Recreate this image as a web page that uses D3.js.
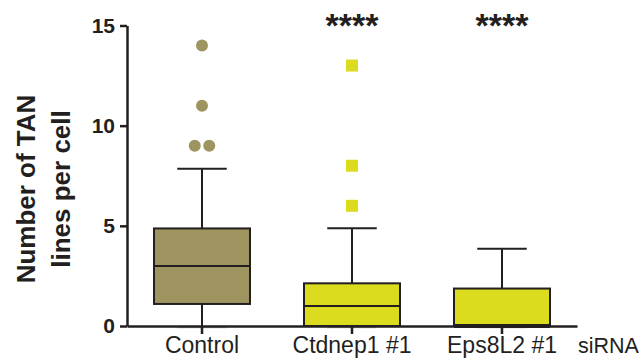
<!DOCTYPE html>
<html>
<head>
<meta charset="utf-8">
<script src="https://cdn.jsdelivr.net/npm/d3@7"></script>
<style>
  body { margin: 0; background: #fff; }
  svg { display: block; }
</style>
</head>
<body>
<div id="vis"></div>
<script>
// Box plot summary per siRNA group
const categories = ["Control", "Ctdnep1 #1", "Eps8L2 #1"]
const whiskerLow = [0, 0, 0]
const q1 = [1.1, 0, 0]
const median = [3, 1, 0]
const q3 = [4.87, 2.13, 1.87]
const whiskerHigh = [7.85, 4.88, 3.85]
const outliers = [[14, 11, 9, 9], [13, 8, 6], []]
const significance = ["", "****", "****"]
const yTicks = [0, 5, 10, 15]

const fills = ["#9d945f", "#dcdc1f", "#dcdc1f"]
const ink = "#231f20"

const width = 639, height = 360

const svg = d3.select("#vis")
    .append("svg")
    .attr("width", width)
    .attr("height", height)

const x = d3.scaleBand()
    .domain(categories)
    .range([127, 577])
    .padding(0)

const y = d3.scaleLinear()
    .domain([0, 15])
    .range([326, 25.5])

const boxW = x.bandwidth() * 0.64
const capW = x.bandwidth() * 0.33

const groups = categories.map((c, i) => ({
    name: c, i: i,
    lo: whiskerLow[i], q1: q1[i], med: median[i], q3: q3[i], hi: whiskerHigh[i],
    out: outliers[i]
}))

const cx = d => x(d.name) + x.bandwidth() / 2

// whiskers
const g = svg.selectAll("g.box")
    .data(groups)
    .enter()
    .append("g")
    .attr("class", "box")

g.append("line")
    .attr("x1", cx).attr("x2", cx)
    .attr("y1", d => y(d.hi)).attr("y2", d => y(d.lo))
    .style("stroke", ink).style("stroke-width", 2)

g.append("line")
    .attr("x1", d => cx(d) - capW / 2).attr("x2", d => cx(d) + capW / 2)
    .attr("y1", d => y(d.hi)).attr("y2", d => y(d.hi))
    .style("stroke", ink).style("stroke-width", 2)

g.append("line")
    .attr("x1", d => cx(d) - capW / 2).attr("x2", d => cx(d) + capW / 2)
    .attr("y1", d => y(d.lo) + 1.5).attr("y2", d => y(d.lo) + 1.5)
    .style("stroke", "#bbb").style("stroke-width", 1.5)

// boxes
g.append("rect")
    .attr("x", d => cx(d) - boxW / 2)
    .attr("width", boxW)
    .attr("y", d => y(d.q3))
    .attr("height", d => y(d.q1) - y(d.q3))
    .style("fill", d => fills[d.i])
    .style("stroke", ink)
    .style("stroke-width", 2)

g.append("line")
    .attr("x1", d => cx(d) - boxW / 2).attr("x2", d => cx(d) + boxW / 2)
    .attr("y1", d => y(d.med)).attr("y2", d => y(d.med))
    .style("stroke", ink)
    .style("stroke-width", d => d.med === d.q1 ? 4 : 2)

// outliers: circles for control, squares for the knockdowns; equal values spread sideways
g.each(function(d) {
    const sel = d3.select(this)
    const counts = {}
    d.out.forEach(v => counts[v] = (counts[v] || 0) + 1)
    const seen = {}
    d.out.forEach(v => {
        const k = seen[v] = (seen[v] || 0) + 1
        const n = counts[v]
        const dx = (k - (n + 1) / 2) * 14.5
        if (d.i === 0) {
            sel.append("circle")
                .attr("cx", cx(d) + dx)
                .attr("cy", y(v))
                .attr("r", 6)
                .style("fill", fills[d.i])
        } else {
            sel.append("rect")
                .attr("x", cx(d) + dx - 6)
                .attr("y", y(v) - 6)
                .attr("width", 12).attr("height", 12)
                .style("fill", fills[d.i])
        }
    })
})

// significance stars
svg.selectAll("text.sig")
    .data(groups)
    .enter()
    .append("text")
    .attr("class", "sig")
    .attr("x", cx)
    .attr("y", 37)
    .attr("text-anchor", "middle")
    .style("font-family", "Liberation Sans, Arial, sans-serif")
    .style("font-weight", "bold")
    .style("font-size", "34px")
    .style("fill", ink)
    .text(d => significance[d.i])

// y axis
const yAxis = svg.append("g")
    .attr("transform", "translate(127,0)")
    .call(d3.axisLeft(y).tickValues(yTicks).tickSize(7).tickPadding(5).tickSizeOuter(0))

yAxis.select(".domain").style("stroke", ink).style("stroke-width", 2.5)
yAxis.selectAll(".tick line").style("stroke", ink).style("stroke-width", 2.5)
yAxis.selectAll(".tick text")
    .style("font-family", "Liberation Sans, Arial, sans-serif")
    .style("font-weight", "bold")
    .style("font-size", "21px")
    .style("fill", ink)

// x axis
const xAxis = svg.append("g")
    .attr("transform", "translate(0,326)")
    .call(d3.axisBottom(x).tickSize(8).tickPadding(6).tickSizeOuter(0))

xAxis.select(".domain").style("stroke", ink).style("stroke-width", 2.5)
xAxis.selectAll(".tick line").style("stroke", ink).style("stroke-width", 2.5)
xAxis.selectAll(".tick text")
    .attr("y", 27)
    .attr("dy", null)
    .style("font-family", "Liberation Sans, Arial, sans-serif")
    .style("font-size", "23px")
    .style("fill", ink)

svg.append("text")
    .attr("x", 578)
    .attr("y", 353)
    .style("font-family", "Liberation Sans, Arial, sans-serif")
    .style("font-size", "21.5px")
    .style("fill", ink)
    .text("siRNA")

// y axis title, two lines
const title = svg.append("text")
    .attr("transform", "translate(0,189) rotate(-90)")
    .attr("text-anchor", "middle")
    .style("font-family", "Liberation Sans, Arial, sans-serif")
    .style("font-weight", "bold")
    .style("font-size", "26px")
    .style("fill", ink)

title.append("tspan").attr("x", 0).attr("y", 35).text("Number of TAN")
title.append("tspan").attr("x", 0).attr("y", 70).text("lines per cell")
</script>
</body>
</html>
